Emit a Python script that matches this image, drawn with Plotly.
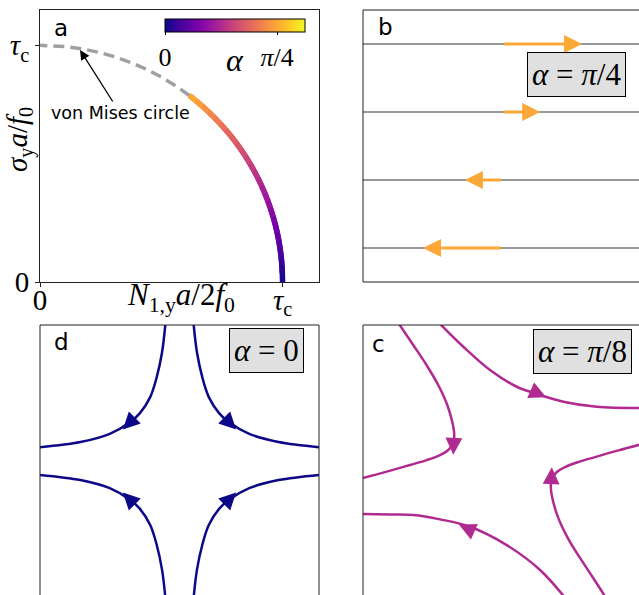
import numpy as np
import plotly.graph_objects as go
from plotly.colors import sample_colorscale

W, H = 639, 595
SERIF = "Liberation Serif"
SANS = "DejaVu Sans"
FRAME = "#222222"

# panel a: yield circle, coloured part parametrised by alpha
arc_theta_deg = [0, 2, 4, 6, 8, 10, 12, 14, 16, 18, 20, 22, 24, 26, 28,
                 30, 32, 34, 36, 38, 40, 42, 44, 46, 48, 50, 52]
arc_alpha = [0.0, 0.030, 0.060, 0.091, 0.121, 0.151, 0.181, 0.211, 0.242,
             0.272, 0.302, 0.332, 0.362, 0.393, 0.423, 0.453, 0.483, 0.513,
             0.544, 0.574, 0.604, 0.634, 0.664, 0.695, 0.725, 0.755, 0.785]
mises_theta_deg = [52, 56, 60, 64, 68, 72, 76, 80, 84, 88, 90]
alpha_max = 5 * np.pi / 16

# panel b: alpha = pi/4 (shear)
b_levels = [0.75, 0.25, -0.25, -0.75]
b_speed = [0.57, 0.27, -0.27, -0.57]

# panel d: alpha = 0 (hyperbolic)
d_curves = [
    ([-0.10, -0.125, -0.165, -0.21, -0.285, -0.355, -0.50, -0.71, -1.02],
     [1.02, 0.80, 0.61, 0.47, 0.35, 0.285, 0.20, 0.14, 0.10]),
    ([0.10, 0.125, 0.165, 0.21, 0.285, 0.355, 0.50, 0.71, 1.02],
     [1.02, 0.80, 0.61, 0.47, 0.35, 0.285, 0.20, 0.14, 0.10]),
    ([-0.10, -0.125, -0.165, -0.21, -0.285, -0.355, -0.50, -0.71, -1.02],
     [-1.02, -0.80, -0.61, -0.47, -0.35, -0.285, -0.20, -0.14, -0.10]),
    ([0.10, 0.125, 0.165, 0.21, 0.285, 0.355, 0.50, 0.71, 1.02],
     [-1.02, -0.80, -0.61, -0.47, -0.35, -0.285, -0.20, -0.14, -0.10]),
]
d_arrows = [  # (tail x, tail y, head x, head y)
    (-0.330, 0.310, -0.406, 0.232),
    (0.330, 0.310, 0.406, 0.232),
    (-0.330, -0.310, -0.406, -0.232),
    (0.330, -0.310, 0.406, -0.232),
]

# panel c: alpha = pi/8
c_curves = [
    ([-0.75, -0.640, -0.545, -0.461, -0.396, -0.358, -0.346, -0.353, -0.389,
      -0.448, -0.543, -0.663, -0.830, -1.02],
     [1.02, 0.853, 0.706, 0.559, 0.412, 0.277, 0.191, 0.130, 0.081,
      0.044, 0.007, -0.029, -0.078, -0.13]),
    ([-0.46, -0.281, -0.090, 0.102, 0.233, 0.436, 0.675, 1.0],
     [1.02, 0.840, 0.669, 0.546, 0.498, 0.436, 0.399, 0.39]),
    ([1.02, 0.83, 0.663, 0.543, 0.448, 0.389, 0.353, 0.346, 0.358, 0.40,
      0.47, 0.56, 0.65, 0.75],
     [0.13, 0.078, 0.029, -0.007, -0.044, -0.081, -0.130, -0.191, -0.277,
      -0.42, -0.57, -0.72, -0.86, -1.02]),
    ([-1.02, -0.80, -0.639, -0.448, -0.233, 0.030, 0.269, 0.46],
     [-0.39, -0.393, -0.397, -0.429, -0.483, -0.618, -0.801, -1.02]),
]
c_arrows = [
    (-0.349, 0.157, -0.353, 0.046),
    (0.208, 0.517, 0.312, 0.469),
    (0.349, -0.157, 0.353, -0.046),
    (-0.208, -0.517, -0.312, -0.469),
]


def color_at(a):
    return sample_colorscale("Plasma", [a / alpha_max])[0]


def px_x(x):
    return x / W


def px_y(y):
    return 1 - y / H


orange = color_at(np.pi / 4)
magenta = color_at(np.pi / 8)
navy = color_at(0.0)

fig = go.Figure()

# --- panel a
th = np.radians(mises_theta_deg)
fig.add_trace(go.Scatter(x=np.cos(th), y=np.sin(th), mode="lines",
                         line=dict(color="#a0a0a0", width=3.5, dash="11px,6px"),
                         xaxis="x", yaxis="y", showlegend=False, hoverinfo="skip"))
th = np.radians(arc_theta_deg)
arc_x, arc_y = np.cos(th), np.sin(th)
for i in range(len(th) - 1):
    j = min(i + 3, len(th))
    fig.add_trace(go.Scatter(x=arc_x[i:j], y=arc_y[i:j], mode="lines",
                             line=dict(color=color_at(arc_alpha[i + 1]), width=5.5),
                             xaxis="x", yaxis="y", showlegend=False, hoverinfo="skip"))
fig.add_trace(go.Scatter(
    x=arc_x, y=arc_y, mode="markers", xaxis="x", yaxis="y", showlegend=False, hoverinfo="skip",
    marker=dict(size=1, opacity=0, color=arc_alpha, colorscale="Plasma", cmin=0, cmax=alpha_max,
                showscale=True,
                colorbar=dict(orientation="h", lenmode="pixels", len=140, thickness=13,
                              x=px_x(235), xanchor="center", y=px_y(18.5), yanchor="top",
                              xpad=0, ypad=0, outlinewidth=1, outlinecolor="black",
                              ticks="outside", ticklen=3, tickcolor="black",
                              tickvals=[0, np.pi / 4], ticktext=["0", "<i>π</i>/4"],
                              tickfont=dict(family=SERIF, size=26, color="black")))))

# --- panel b
for lvl in b_levels:
    fig.add_trace(go.Scatter(x=[-1.1, 1.1], y=[lvl, lvl], mode="lines",
                             line=dict(color="#999999", width=2),
                             xaxis="x2", yaxis="y2", showlegend=False, hoverinfo="skip"))

# --- panel d
for cx, cy in d_curves:
    fig.add_trace(go.Scatter(x=cx, y=cy, mode="lines", line=dict(color=navy, width=2.5, shape="spline"),
                             xaxis="x3", yaxis="y3", showlegend=False, hoverinfo="skip"))

# --- panel c
for cx, cy in c_curves:
    fig.add_trace(go.Scatter(x=cx, y=cy, mode="lines", line=dict(color=magenta, width=2.5, shape="spline"),
                             xaxis="x4", yaxis="y4", showlegend=False, hoverinfo="skip"))

ann = []


def arrow(ref, tx, ty, hx, hy, color, width, size):
    ann.append(dict(x=hx, y=hy, ax=tx, ay=ty, xref="x" + ref, yref="y" + ref,
                    axref="x" + ref, ayref="y" + ref, text="", showarrow=True,
                    arrowhead=2, arrowsize=size, arrowwidth=width, arrowcolor=color))


for lvl, sp in zip(b_levels, b_speed):
    arrow("2", 0, lvl, sp, lvl, orange, 3, 1.2)
for a in d_arrows:
    arrow("3", *a, navy, 2.5, 1.35)
for a in c_arrows:
    arrow("4", *a, magenta, 2.5, 1.35)


def paper_text(px, py, text, size, family, **kw):
    d = dict(x=px_x(px), y=px_y(py), xref="paper", yref="paper", text=text, showarrow=False,
             font=dict(family=family, size=size, color="black"), xanchor="center", yanchor="middle")
    d.update(kw)
    ann.append(d)


# panel letters
paper_text(61, 28, "a", 23, SANS)
paper_text(385, 27, "b", 23, SANS)
paper_text(61, 342, "d", 23, SANS)
paper_text(378, 344, "c", 23, SANS)

# alpha boxes
box = dict(bgcolor="#e0e0e0", bordercolor="black", borderwidth=1, borderpad=4)
paper_text(576.5, 74, "<i>α</i> = <i>π</i>/4", 31, SERIF, **box)
paper_text(266.5, 350.5, "<i>α</i> = 0", 31, SERIF, **box)
paper_text(582, 351, "<i>α</i> = <i>π</i>/8", 31, SERIF, **box)

# axis titles of panel a
paper_text(181, 297, "<i>N</i><sub>1,y</sub><i>a</i>/2<i>f</i><sub>0</sub>", 31, SERIF)
paper_text(19, 140, "<i>σ</i><sub>y</sub><i>a</i>/<i>f</i><sub>0</sub>", 29, SERIF, textangle=-90)
paper_text(235, 60, "<i>α</i>", 32, SERIF)

# von Mises annotation
ann.append(dict(x=0.165, y=0.98, xref="x", yref="y", ax=40, ay=63, text="von Mises circle",
                font=dict(family=SANS, size=17.5, color="black"), showarrow=True,
                arrowhead=2, arrowsize=1.5, arrowwidth=1.3, arrowcolor="black"))

# frames for the clipped panels
shapes = []


def seg(ref, x0, y0, x1, y1):
    shapes.append(dict(type="line", xref=f"x{ref} domain", yref=f"y{ref} domain",
                       x0=x0, y0=y0, x1=x1, y1=y1, line=dict(color=FRAME, width=1)))


seg("2", 0, 0, 0, 1); seg("2", 0, 1, 1, 1); seg("2", 0, 0, 1, 0)
seg("3", 0, 0, 0, 1); seg("3", 0, 1, 1, 1); seg("3", 1, 0, 1, 1)
seg("4", 0, 0, 0, 1); seg("4", 0, 1, 1, 1)

tick_a = dict(showline=True, mirror=True, linecolor=FRAME, linewidth=1, ticks="outside",
              ticklen=4, tickcolor=FRAME, showgrid=False, zeroline=False, automargin=False,
              tickvals=[0, 1], ticktext=["0", "<i>τ</i><sub>c</sub>"],
              tickfont=dict(family=SERIF, size=29, color="black"))
hidden = dict(visible=False, showgrid=False, zeroline=False, automargin=False)

fig.update_layout(
    width=W, height=H, margin=dict(l=0, r=0, t=0, b=0),
    plot_bgcolor="white", paper_bgcolor="white", showlegend=False,
    xaxis=dict(domain=[px_x(40), px_x(319)], range=[0, 1.15], anchor="y",
               ticklabelstandoff=-12, **tick_a),
    yaxis=dict(domain=[px_y(282), px_y(10)], range=[0, 1.149], anchor="x", **tick_a),
    xaxis2=dict(domain=[px_x(363), 1], range=[-1, 0.978], anchor="y2", **hidden),
    yaxis2=dict(domain=[px_y(282), px_y(10)], range=[-1, 1], anchor="x2", **hidden),
    xaxis3=dict(domain=[px_x(40), px_x(319)], range=[-1, 1], anchor="y3", **hidden),
    yaxis3=dict(domain=[0, px_y(325)], range=[-0.985, 1], anchor="x3", **hidden),
    xaxis4=dict(domain=[px_x(363), 1], range=[-1, 0.978], anchor="y4", **hidden),
    yaxis4=dict(domain=[0, px_y(325)], range=[-0.985, 1], anchor="x4", **hidden),
    annotations=ann, shapes=shapes,
)

# drop the browser's default page margin so the figure fills the window
fig.write_html("out.html", config={"displayModeBar": False},
               post_script="document.body.style.margin='0';document.body.style.overflow='hidden';")
